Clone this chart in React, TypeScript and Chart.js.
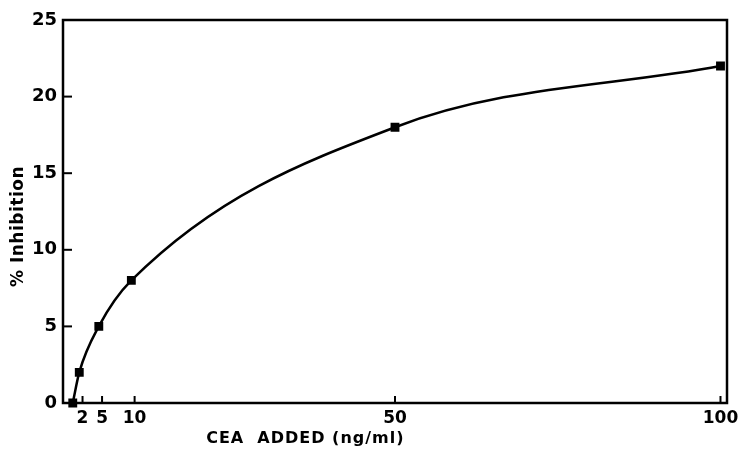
import React, { useEffect, useRef } from "react";
import { Chart, registerables } from "chart.js";

Chart.register(...registerables);

const ceaAdded = [0.5, 1.5, 4.5, 9.5, 50, 100];
const inhibition = [0, 2, 5, 8, 18, 22];
const xTickValues = [2, 5, 10, 50, 100];
const yTickValues = [0, 5, 10, 15, 20, 25];
const xTitle = "CEA  ADDED (ng/ml)";
const yTitle = "% Inhibition";

const FONT = "'DejaVu Sans', sans-serif";

const framePlugin = {
  id: "frame",
  afterDraw(chart: any) {
    const { ctx, chartArea } = chart;
    const { left, right, top, bottom } = chartArea;
    ctx.save();
    ctx.strokeStyle = "#000";
    ctx.lineWidth = 2.5;
    ctx.strokeRect(left, top, right - left, bottom - top);
    ctx.lineWidth = 2;
    const xs = chart.scales.x;
    const ys = chart.scales.y;
    xTickValues.forEach((v) => {
      const px = xs.getPixelForValue(v);
      ctx.beginPath();
      ctx.moveTo(px, bottom);
      ctx.lineTo(px, bottom - 7);
      ctx.stroke();
    });
    yTickValues.forEach((v) => {
      if (v === 0 || v === 25) return;
      const py = ys.getPixelForValue(v);
      ctx.beginPath();
      ctx.moveTo(left, py);
      ctx.lineTo(left + 9, py);
      ctx.stroke();
    });
    ctx.fillStyle = "#000";
    ctx.font = `bold 16px ${FONT}`;
    ctx.textAlign = "center";
    ctx.textBaseline = "middle";
    (ctx as any).letterSpacing = "1px";
    ctx.fillText(xTitle, left + (right - left) * 0.365, 439);
    (ctx as any).letterSpacing = "0.5px";
    ctx.font = `bold 17px ${FONT}`;
    ctx.translate(19, (top + bottom) / 2 + 15);
    ctx.rotate(-Math.PI / 2);
    ctx.fillText(yTitle, 0, 0);
    ctx.restore();
  },
};

export default function App() {
  const ref = useRef<HTMLCanvasElement | null>(null);
  useEffect(() => {
    document.body.style.margin = "0";
    const chart = new Chart(ref.current as HTMLCanvasElement, {
      type: "line",
      data: {
        datasets: [
          {
            data: ceaAdded.map((x, i) => ({ x, y: inhibition[i] })),
            borderColor: "#000",
            backgroundColor: "#000",
            borderWidth: 2.5,
            pointStyle: "rect",
            pointRadius: 4.5,
            pointHoverRadius: 4.5,
            cubicInterpolationMode: "monotone",
            fill: false,
            clip: false as any,
          },
        ],
      },
      options: {
        animation: false,
        responsive: false,
        events: [],
        layout: { padding: { top: 20, right: 12, left: 0, bottom: 0 } },
        plugins: { legend: { display: false }, tooltip: { enabled: false } },
        scales: {
          x: {
            type: "linear",
            min: -1,
            max: 101,
            afterFit(scale: any) {
              scale.height = 47;
              scale.paddingLeft = 0;
              scale.paddingRight = 0;
            },
            afterBuildTicks(scale: any) {
              scale.ticks = xTickValues.map((v) => ({ value: v }));
            },
            grid: { display: false, drawTicks: false },
            border: { display: false },
            ticks: {
              autoSkip: false,
              maxRotation: 0,
              padding: 5,
              color: "#000",
              font: { family: FONT, size: 17, weight: "bold" },
            },
          },
          y: {
            type: "linear",
            min: 0,
            max: 25,
            afterFit(scale: any) {
              scale.width = 63;
              scale.paddingTop = 0;
              scale.paddingBottom = 0;
            },
            afterBuildTicks(scale: any) {
              scale.ticks = yTickValues.map((v) => ({ value: v }));
            },
            grid: { display: false, drawTicks: false },
            border: { display: false },
            ticks: {
              padding: 6,
              color: "#000",
              font: { family: FONT, size: 18, weight: "bold" },
            },
          },
        },
      },
      plugins: [framePlugin],
    } as any);
    return () => chart.destroy();
  }, []);
  return (
    <div style={{ position: "absolute", left: 0, top: 0, width: 739, height: 450, background: "#fff" }}>
      <canvas ref={ref} width={739} height={450} />
    </div>
  );
}
